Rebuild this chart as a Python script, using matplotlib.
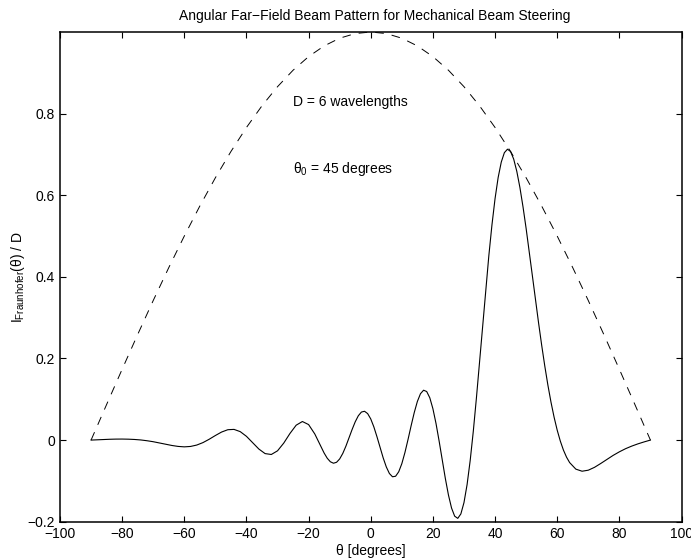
import matplotlib
matplotlib.use("Agg")
import matplotlib.pyplot as plt

plt.rcParams["font.family"] = ["Liberation Sans", "DejaVu Sans"]
plt.rcParams["font.size"] = 10
plt.rcParams["mathtext.fontset"] = "custom"
plt.rcParams["mathtext.rm"] = "Liberation Sans"
plt.rcParams["mathtext.it"] = "Liberation Sans:italic"
plt.rcParams["lines.scale_dashes"] = False

# envelope (obliquity factor), sampled every 5 degrees
theta_env = list(range(-90, 91, 5))
envelope = [0.0, 0.0872, 0.1736, 0.2588, 0.3420, 0.4226, 0.5000, 0.5736, 0.6428,
            0.7071, 0.7660, 0.8192, 0.8660, 0.9063, 0.9397, 0.9659, 0.9848, 0.9962,
            1.0000,
            0.9962, 0.9848, 0.9659, 0.9397, 0.9063, 0.8660, 0.8192, 0.7660, 0.7071,
            0.6428, 0.5736, 0.5000, 0.4226, 0.3420, 0.2588, 0.1736, 0.0872, 0.0]

# steered beam pattern, finer grid where the lobes are
theta_beam = list(range(-90, -15, 2)) + list(range(-15, 65)) + list(range(66, 91, 2))
beam = [
    # -90 .. -16 (step 2)
    0.0, 0.0007, 0.0014, 0.0020, 0.0024, 0.0025, 0.0022, 0.0015, 0.0003, -0.0016,
    -0.0040, -0.0070, -0.0102, -0.0132, -0.0155, -0.0166, -0.0156, -0.0122, -0.0062,
    0.0020, 0.0112, 0.0197, 0.0254, 0.0262, 0.0207, 0.0092, -0.0063, -0.0220,
    -0.0331, -0.0353, -0.0263, -0.0074, 0.0162, 0.0365, 0.0455, 0.0380, 0.0149,
    -0.0166,
    # -15 .. 64 (step 1)
    -0.0318, -0.0445, -0.0531, -0.0567, -0.0544, -0.0462, -0.0327, -0.0150, 0.0052,
    0.0259, 0.0447, 0.0596, 0.0687, 0.0706, 0.0649, 0.0518, 0.0323, 0.0082, -0.0180,
    -0.0436, -0.0657, -0.0819, -0.0899, -0.0886, -0.0777, -0.0578, -0.0305, 0.0016,
    0.0354, 0.0675, 0.0946, 0.1136, 0.1222, 0.1190, 0.1037, 0.0769, 0.0407, -0.0023,
    -0.0485, -0.0939, -0.1345, -0.1665, -0.1864, -0.1918, -0.1809, -0.1532, -0.1091,
    -0.0500, 0.0216, 0.1029, 0.1904, 0.2801, 0.3684, 0.4518, 0.5271, 0.5917, 0.6435,
    0.6812, 0.7043, 0.7128, 0.7071, 0.6885, 0.6585, 0.6189, 0.5714, 0.5185, 0.4618,
    0.4033, 0.3447, 0.2874, 0.2328, 0.1817, 0.1349, 0.0930, 0.0561, 0.0243, -0.0024,
    -0.0244, -0.0418, -0.0551,
    # 66 .. 90 (step 2)
    -0.0712, -0.0763, -0.0738, -0.0668, -0.0574, -0.0473, -0.0375, -0.0288, -0.0211,
    -0.0147, -0.0092, -0.0044, 0.0,
]

xticks = [-100, -80, -60, -40, -20, 0, 20, 40, 60, 80, 100]
yticks = [-0.2, 0, 0.2, 0.4, 0.6, 0.8]

fig = plt.figure(figsize=(6.91, 5.6), dpi=100)
ax = fig.add_axes([60 / 691, 38.3 / 560, 621.5 / 691, 489.7 / 560])

ax.plot(theta_env, envelope, color="k", lw=0.7, dashes=(6.2, 5.8))
ax.plot(theta_beam, beam, color="k", lw=0.8)

ax.set_xlim(-100, 100)
ax.set_ylim(-0.2, 1.0)
ax.set_xticks(xticks)
ax.set_xticklabels([str(t).replace("-", "\u2212") for t in xticks])
ax.set_yticks(yticks)
ax.set_yticklabels([("%g" % t).replace("-", "\u2212") for t in yticks])
ax.tick_params(direction="in", top=True, right=True, length=4.5, width=0.8)
ax.tick_params(axis="y", pad=3.5)
ax.tick_params(axis="x", pad=4)
for s in ax.spines.values():
    s.set_linewidth(1.1)

ax.text(-25, 0.818, "D = 6 wavelengths", ha="left", va="baseline")
ax.text(-25, 0.6536, "\u03b8$_0$ = 45 degrees", ha="left", va="baseline")

ax.set_title("Angular Far\u2212Field Beam Pattern for Mechanical Beam Steering",
             fontsize=10, pad=8.5, x=0.507)
ax.set_xlabel("\u03b8 [degrees]", labelpad=2)
ax.set_ylabel("I$_{\\mathrm{Fraunhofer}}$(\u03b8) / D", labelpad=0.5)

fig.savefig("out.png", dpi=100)
